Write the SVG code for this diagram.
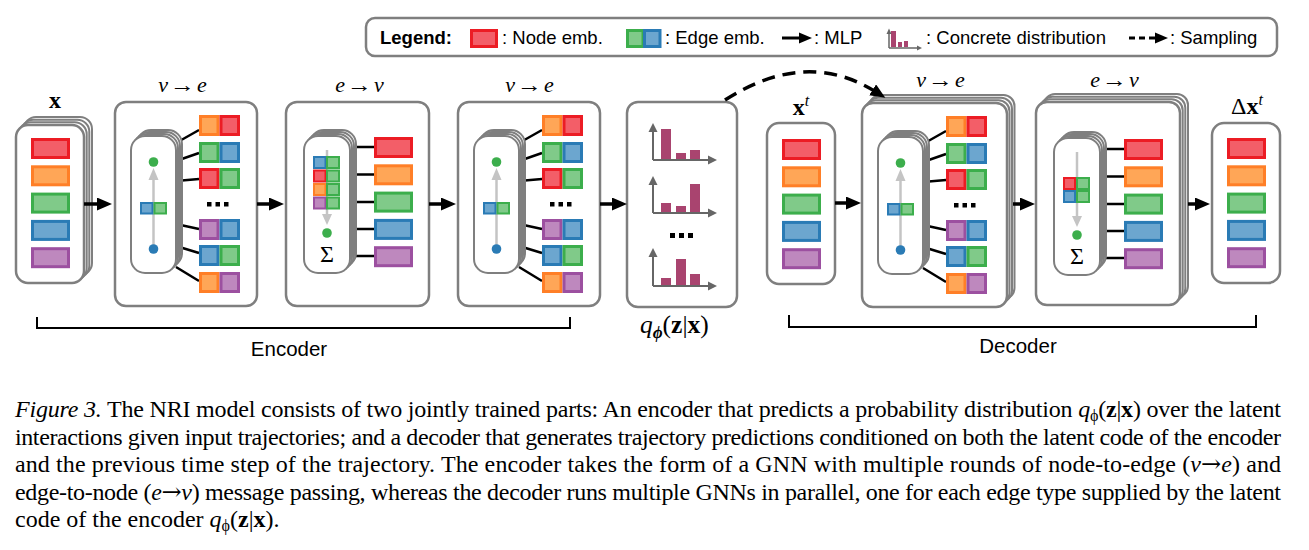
<svg xmlns="http://www.w3.org/2000/svg" xmlns:xlink="http://www.w3.org/1999/xlink" width="1309" height="550" viewBox="0 0 1309 550">
<defs>
<style>
.box{fill:#fff;stroke:#7f7f7f;stroke-width:2.5}
.stk{fill:#fff;stroke:#7f7f7f;stroke-width:2}
.r{fill:#f35e68;stroke:#ec1c24;stroke-width:3}
.o{fill:#ffa657;stroke:#ff7f27;stroke-width:3}
.g{fill:#80ca89;stroke:#3cae4c;stroke-width:3}
.b{fill:#6ca6cf;stroke:#2a7bb5;stroke-width:3}
.p{fill:#be88be;stroke:#9c50a0;stroke-width:3}
.sm{stroke-width:2}
.ln{stroke:#000;stroke-width:2.5;fill:none}
.ga{stroke:#c4c4c4;stroke-width:2.5;fill:none}
.gh{fill:#c4c4c4}
.ax{stroke:#666;stroke-width:2;fill:none}
.axh{fill:#666}
.bar{fill:#a9446f}
.arr{stroke:#000;stroke-width:3.5;fill:none}
.dash{stroke:#000;stroke-width:3.5;fill:none;stroke-dasharray:13 8}
.lbl{font-family:"Liberation Serif","Times New Roman",serif;font-size:22px;fill:#000}
.sans{font-family:"Liberation Sans",Arial,sans-serif;fill:#000}
.cap{font-family:"Liberation Serif","Times New Roman",serif;font-size:24px;fill:#000}
.it{font-style:italic}
.bd{font-weight:bold}
.dot{fill:#000}
.ar{font-family:"DejaVu Serif",serif}
</style>
<marker id="ah" viewBox="0 0 15 13" refX="4" refY="6.5" markerWidth="15" markerHeight="13" markerUnits="userSpaceOnUse" orient="auto"><path d="M0,0 L15,6.5 L0,13 z" fill="#000"/></marker>
<g id="ncol">
<rect class="r" x="1.5" y="1.5" width="36" height="18"/>
<rect class="o" x="1.5" y="28.8" width="36" height="18"/>
<rect class="g" x="1.5" y="56.1" width="36" height="18"/>
<rect class="b" x="1.5" y="83.4" width="36" height="18"/>
<rect class="p" x="1.5" y="110.7" width="36" height="18"/>
</g>
<g id="v2e">
<path class="ln" d="M45,7 L68,-6 M45,25 L68,17 M45,45 L68,43 M45,88 L68,93 M45,110 L68,117 M45,131 L68,145"/>
<rect class="stk" x="6" y="-6" width="45" height="137" rx="14"/>
<rect class="stk" x="4" y="-4" width="45" height="137" rx="14"/>
<rect class="stk" x="2" y="-2" width="45" height="137" rx="14"/>
<rect class="stk" x="0" y="0" width="45" height="137" rx="14"/>
<line class="ga" x1="22.5" y1="110" x2="22.5" y2="42"/>
<path class="gh" d="M17.5,44 L22.5,32 L27.5,44 z"/>
<circle cx="22.5" cy="26" r="4.8" fill="#3cae4c"/>
<circle cx="22.5" cy="113" r="4.8" fill="#2a7bb5"/>
<rect class="b sm" x="10" y="67" width="11.5" height="10.5"/>
<rect class="g sm" x="23.5" y="67" width="11.5" height="10.5"/>
<rect class="o" x="69.5" y="-19.5" width="17.5" height="18"/><rect class="r" x="90" y="-19.5" width="17.5" height="18"/>
<rect class="g" x="69.5" y="7.5" width="17.5" height="18"/><rect class="b" x="90" y="7.5" width="17.5" height="18"/>
<rect class="r" x="69.5" y="33.5" width="17.5" height="18"/><rect class="g" x="90" y="33.5" width="17.5" height="18"/>
<rect class="dot" x="76" y="66" width="4.5" height="4.5"/><rect class="dot" x="84.5" y="66" width="4.5" height="4.5"/><rect class="dot" x="93" y="66" width="4.5" height="4.5"/>
<rect class="p" x="69.5" y="84.5" width="17.5" height="18"/><rect class="b" x="90" y="84.5" width="17.5" height="18"/>
<rect class="b" x="69.5" y="110.5" width="17.5" height="18"/><rect class="g" x="90" y="110.5" width="17.5" height="18"/>
<rect class="o" x="69.5" y="137.5" width="17.5" height="18"/><rect class="p" x="90" y="137.5" width="17.5" height="18"/>
</g>
<g id="e2v">
<path class="ln" d="M46,11 H70 M46,38.5 H70 M46,66 H70 M46,93 H70 M46,120 H70"/>
<rect class="stk" x="6" y="-6" width="46" height="137" rx="14"/>
<rect class="stk" x="4" y="-4" width="46" height="137" rx="14"/>
<rect class="stk" x="2" y="-2" width="46" height="137" rx="14"/>
<rect class="stk" x="0" y="0" width="46" height="137" rx="14"/>
<line class="ga" x1="23" y1="14" x2="23" y2="80"/>
<path class="gh" d="M18,78 L23,89 L28,78 z"/>
<circle cx="23" cy="97" r="4.8" fill="#3cae4c"/>
<text class="lbl" x="23" y="126" text-anchor="middle" style="font-size:24px">Σ</text>
<use xlink:href="#ncol" x="70" y="1"/>
</g>
</defs>

<g id="legend">
<rect x="366" y="18" width="911" height="38" rx="9" fill="#fff" stroke="#7f7f7f" stroke-width="2.5"/>
<text class="sans bd" x="380" y="44" style="font-size:18.5px">Legend:</text>
<rect class="r" x="471.5" y="30.5" width="25" height="16"/>
<text class="sans" x="502" y="44" style="font-size:18.5px">: Node emb.</text>
<rect class="g" x="627.5" y="30.5" width="15.5" height="16"/><rect class="b" x="644.5" y="30.5" width="15.5" height="16"/>
<text class="sans" x="665" y="44" style="font-size:18.5px">: Edge emb.</text>
<line x1="782" y1="38" x2="801" y2="38" stroke="#000" stroke-width="3"/>
<path d="M799,32.5 L812,38 L799,43.5 z" fill="#000"/>
<text class="sans" x="814" y="44" style="font-size:18.5px">: MLP</text>
<rect class="bar" x="891" y="31" width="5" height="16"/>
<rect class="bar" x="898" y="42" width="4" height="5"/>
<rect class="bar" x="904" y="41" width="4" height="6"/>
<path class="ax" d="M889,48 V33 M889,48 H918" style="stroke-width:1.5"/>
<path class="axh" d="M886.5,34 L889,28.5 L891.5,34 z"/>
<path class="axh" d="M917,45.5 L922,48 L917,50.5 z"/>
<text class="sans" x="926" y="44" style="font-size:18.5px">: Concrete distribution</text>
<line x1="1129" y1="38" x2="1157" y2="38" stroke="#000" stroke-width="3" stroke-dasharray="6 4"/>
<path d="M1155,32.5 L1168,38 L1155,43.5 z" fill="#000"/>
<text class="sans" x="1170" y="44" style="font-size:18.5px">: Sampling</text>
</g>

<g id="input-x">
<rect class="stk" x="24" y="117" width="68" height="158" rx="12"/>
<rect class="stk" x="21.3" y="119.7" width="68" height="158" rx="12"/>
<rect class="stk" x="18.7" y="122.3" width="68" height="158" rx="12"/>
<rect class="box" x="16" y="125" width="68" height="158" rx="12"/>
<use xlink:href="#ncol" x="31" y="138"/>
<text class="lbl bd" x="55" y="108" text-anchor="middle" style="font-size:24px">x</text>
</g>

<g id="enc-node2edge-1">
<rect class="box" x="115" y="102" width="142" height="204" rx="11"/>
<use xlink:href="#v2e" x="131" y="136"/>
<text class="lbl it" x="168" y="92" text-anchor="end">v</text>
<text class="lbl" x="170" y="92" textLength="25" lengthAdjust="spacingAndGlyphs">→</text>
<text class="lbl it" x="197" y="92">e</text>
</g>

<g id="enc-edge2node">
<rect class="box" x="286" y="102" width="143" height="204" rx="11"/>
<use xlink:href="#e2v" x="304" y="136"/>
<rect class="b sm" x="314" y="157" width="11.5" height="11"/><rect class="g sm" x="327" y="157" width="12" height="11"/>
<rect class="r sm" x="314" y="170.5" width="11.5" height="11"/><rect class="g sm" x="327" y="170.5" width="12" height="11"/>
<rect class="o sm" x="314" y="184" width="11.5" height="11"/><rect class="g sm" x="327" y="184" width="12" height="11"/>
<rect class="p sm" x="314" y="197.5" width="11.5" height="11"/><rect class="g sm" x="327" y="197.5" width="12" height="11"/>
<text class="lbl it" x="345" y="92" text-anchor="end">e</text>
<text class="lbl" x="347" y="92" textLength="25" lengthAdjust="spacingAndGlyphs">→</text>
<text class="lbl it" x="374" y="92">v</text>
</g>

<g id="enc-node2edge-2">
<rect class="box" x="458" y="102" width="142" height="204" rx="11"/>
<use xlink:href="#v2e" x="474" y="136"/>
<text class="lbl it" x="515" y="92" text-anchor="end">v</text>
<text class="lbl" x="517" y="92" textLength="25" lengthAdjust="spacingAndGlyphs">→</text>
<text class="lbl it" x="544" y="92">e</text>
</g>

<g id="latent-q">
<rect class="box" x="627" y="102" width="110" height="205" rx="11"/>
<rect class="bar" x="661" y="129" width="10" height="30"/>
<rect class="bar" x="676" y="153" width="10" height="6"/>
<rect class="bar" x="690" y="150" width="10" height="9"/>
<path class="ax" d="M653,160 V131 M653,160 H709"/>
<path class="axh" d="M648.5,132 L653,123 L657.5,132 z"/>
<path class="axh" d="M708,155.5 L717,160 L708,164.5 z"/>
<rect class="bar" x="661" y="203" width="10" height="9"/>
<rect class="bar" x="676" y="206" width="10" height="6"/>
<rect class="bar" x="690" y="184" width="10" height="28"/>
<path class="ax" d="M653,213 V184 M653,213 H709"/>
<path class="axh" d="M648.5,185 L653,176 L657.5,185 z"/>
<path class="axh" d="M708,208.5 L717,213 L708,217.5 z"/>
<rect class="dot" x="670" y="233" width="5" height="5"/><rect class="dot" x="679" y="233" width="5" height="5"/><rect class="dot" x="688" y="233" width="5" height="5"/>
<rect class="bar" x="661" y="278" width="10" height="7"/>
<rect class="bar" x="676" y="259" width="10" height="26"/>
<rect class="bar" x="690" y="274" width="10" height="11"/>
<path class="ax" d="M653,286 V256 M653,286 H709"/>
<path class="axh" d="M648.5,257 L653,248 L657.5,257 z"/>
<path class="axh" d="M708,281.5 L717,286 L708,290.5 z"/>
<text class="lbl" x="640" y="333" style="font-size:25.5px"><tspan class="it">q</tspan><tspan class="it bd" style="font-size:17px" dy="5">ϕ</tspan><tspan dy="-5">(</tspan><tspan class="bd">z</tspan>|<tspan class="bd">x</tspan>)</text>
</g>

<g id="input-xt">
<rect class="box" x="767" y="123" width="68" height="161" rx="12"/>
<use xlink:href="#ncol" x="782" y="139"/>
<text class="lbl" x="801" y="115" text-anchor="middle" style="font-size:24px"><tspan class="bd">x</tspan><tspan class="it" style="font-size:16px" dy="-9">t</tspan></text>
</g>

<g id="dec-node2edge">
<rect class="stk" x="869.5" y="95" width="145" height="204" rx="11"/>
<rect class="stk" x="867" y="97.7" width="145" height="204" rx="11"/>
<rect class="stk" x="864.5" y="100.3" width="145" height="204" rx="11"/>
<rect class="box" x="862" y="103" width="145" height="204" rx="11"/>
<use xlink:href="#v2e" x="878" y="137"/>
<text class="lbl it" x="926" y="87" text-anchor="end">v</text>
<text class="lbl" x="928" y="87" textLength="25" lengthAdjust="spacingAndGlyphs">→</text>
<text class="lbl it" x="955" y="87">e</text>
</g>

<g id="dec-edge2node">
<rect class="stk" x="1044" y="94" width="144" height="203" rx="11"/>
<rect class="stk" x="1041.3" y="96.7" width="144" height="203" rx="11"/>
<rect class="stk" x="1038.7" y="99.3" width="144" height="203" rx="11"/>
<rect class="box" x="1036" y="102" width="144" height="203" rx="11"/>
<use xlink:href="#e2v" x="1054" y="138"/>
<rect class="r sm" x="1064" y="178" width="11" height="11"/><rect class="g sm" x="1077" y="178" width="12" height="11"/>
<rect class="b sm" x="1064" y="191" width="11" height="11"/><rect class="g sm" x="1077" y="191" width="12" height="11"/>
<text class="lbl it" x="1100" y="87" text-anchor="end">e</text>
<text class="lbl" x="1102" y="87" textLength="25" lengthAdjust="spacingAndGlyphs">→</text>
<text class="lbl it" x="1129" y="87">v</text>
</g>

<g id="output-dxt">
<rect class="box" x="1212" y="123" width="68" height="160" rx="12"/>
<use xlink:href="#ncol" x="1227" y="138"/>
<text class="lbl" x="1247" y="114" text-anchor="middle" style="font-size:24px">Δ<tspan class="bd">x</tspan><tspan class="it" style="font-size:16px" dy="-9">t</tspan></text>
</g>

<g id="connectors">
<line class="arr" x1="84" y1="204" x2="101" y2="204" marker-end="url(#ah)"/>
<line class="arr" x1="257" y1="204" x2="273" y2="204" marker-end="url(#ah)"/>
<line class="arr" x1="429" y1="204" x2="445" y2="204" marker-end="url(#ah)"/>
<line class="arr" x1="600" y1="204" x2="616" y2="204" marker-end="url(#ah)"/>
<line class="arr" x1="835" y1="203" x2="850" y2="203" marker-end="url(#ah)"/>
<line class="arr" x1="1013" y1="204" x2="1024" y2="204" marker-end="url(#ah)"/>
<line class="arr" x1="1188" y1="204" x2="1199" y2="204" marker-end="url(#ah)"/>
<path class="dash" d="M725,100 Q806,48 876,92" marker-end="url(#ah)"/>
</g>

<g id="brackets">
<path d="M37,317 V328 H570 V317" fill="none" stroke="#000" stroke-width="2"/>
<text class="sans" x="289" y="356" text-anchor="middle" style="font-size:20.5px">Encoder</text>
<path d="M789,315 V327 H1256 V315" fill="none" stroke="#000" stroke-width="2"/>
<text class="sans" x="1018" y="353" text-anchor="middle" style="font-size:20.5px">Decoder</text>
</g>

<g id="caption">
<text class="cap" x="15" y="417" textLength="1266" lengthAdjust="spacing"><tspan class="it">Figure 3.</tspan> The NRI model consists of two jointly trained parts: An encoder that predicts a probability distribution <tspan class="it">q</tspan><tspan style="font-size:16px" dy="4">ϕ</tspan><tspan dy="-4">(</tspan><tspan class="bd">z</tspan>|<tspan class="bd">x</tspan>) over the latent</text>
<text class="cap" x="15" y="444.5" textLength="1266" lengthAdjust="spacing">interactions given input trajectories; and a decoder that generates trajectory predictions conditioned on both the latent code of the encoder</text>
<text class="cap" x="15" y="472" textLength="1266" lengthAdjust="spacing">and the previous time step of the trajectory. The encoder takes the form of a GNN with multiple rounds of node-to-edge (<tspan class="it">v</tspan><tspan class="ar">→</tspan><tspan class="it">e</tspan>) and</text>
<text class="cap" x="15" y="499.5" textLength="1266" lengthAdjust="spacing">edge-to-node (<tspan class="it">e</tspan><tspan class="ar">→</tspan><tspan class="it">v</tspan>) message passing, whereas the decoder runs multiple GNNs in parallel, one for each edge type supplied by the latent</text>
<text class="cap" x="15" y="527">code of the encoder <tspan class="it">q</tspan><tspan style="font-size:16px" dy="4">ϕ</tspan><tspan dy="-4">(</tspan><tspan class="bd">z</tspan>|<tspan class="bd">x</tspan>).</text>
</g>
</svg>
